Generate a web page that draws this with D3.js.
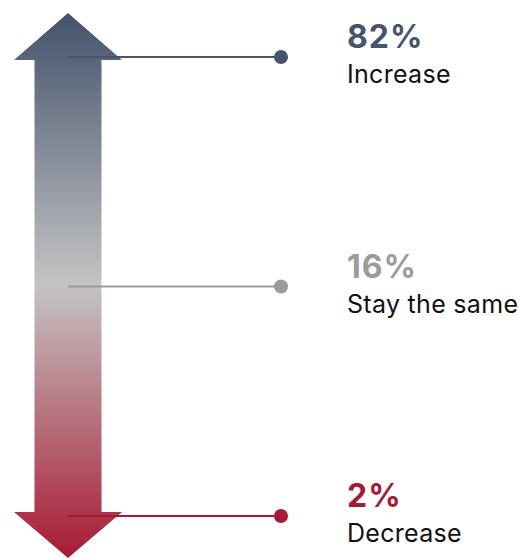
<!DOCTYPE html>
<html>
<head>
<meta charset="utf-8">
<script src="https://cdn.jsdelivr.net/npm/d3@7"></script>
<style>
  body { margin: 0; background: #fff; }
  svg { display: block; font-family: Inter, "Noto Sans", sans-serif; }
</style>
</head>
<body>
<svg></svg>
<script>
const categories = ['Increase', 'Stay the same', 'Decrease'];
const values = [82, 16, 2];
const colors = ['#46546e', '#9b9b9b', '#a81a33'];

const width = 520, height = 558;
const svg = d3.select('svg').attr('width', width).attr('height', height);

const y = d3.scalePoint().domain(categories).range([57, 516]);
const cx = 68, dotX = 281, textX = 347;

const defs = svg.append('defs');
const grad = defs.append('linearGradient')
  .attr('id', 'arrowGrad')
  .attr('x1', 0).attr('y1', 0).attr('x2', 0).attr('y2', 1);
grad.append('stop').attr('offset', '0%').attr('stop-color', '#43526b');
grad.append('stop').attr('offset', '50%').attr('stop-color', '#c4c4c4');
grad.append('stop').attr('offset', '100%').attr('stop-color', '#a81a33');

// double headed arrow
const arrowTop = y(categories[0]) - 44, headTop = y(categories[0]) + 3;
const arrowBottom = height, headBot = y(categories[2]) - 4;
const headW = 54, shaftW = 33.5;
const path = d3.path();
path.moveTo(cx, arrowTop);
path.lineTo(cx + headW, headTop);
path.lineTo(cx + shaftW, headTop);
path.lineTo(cx + shaftW, headBot);
path.lineTo(cx + headW, headBot);
path.lineTo(cx, arrowBottom);
path.lineTo(cx - headW, headBot);
path.lineTo(cx - shaftW, headBot);
path.lineTo(cx - shaftW, headTop);
path.lineTo(cx - headW, headTop);
path.closePath();

svg.append('path')
  .attr('d', path.toString())
  .attr('fill', 'url(#arrowGrad)');

const rows = svg.append('g')
  .selectAll('g')
  .data(categories)
  .join('g')
  .attr('transform', d => `translate(0,${y(d)})`);

rows.append('line')
  .attr('x1', cx).attr('x2', dotX)
  .attr('stroke', (d, i) => colors[i])
  .attr('stroke-width', 2);

rows.append('circle')
  .attr('cx', dotX).attr('r', 7)
  .attr('fill', (d, i) => colors[i]);

rows.append('text')
  .attr('x', textX).attr('y', -9)
  .attr('fill', (d, i) => colors[i])
  .attr('font-size', 32)
  .attr('font-weight', 700)
  .attr('letter-spacing', 1)
  .text((d, i) => values[i] + '%');

rows.append('text')
  .attr('x', textX).attr('y', 26)
  .attr('fill', '#111')
  .attr('font-size', 25)
  .attr('letter-spacing', 0.3)
  .text(d => d);
</script>
</body>
</html>
